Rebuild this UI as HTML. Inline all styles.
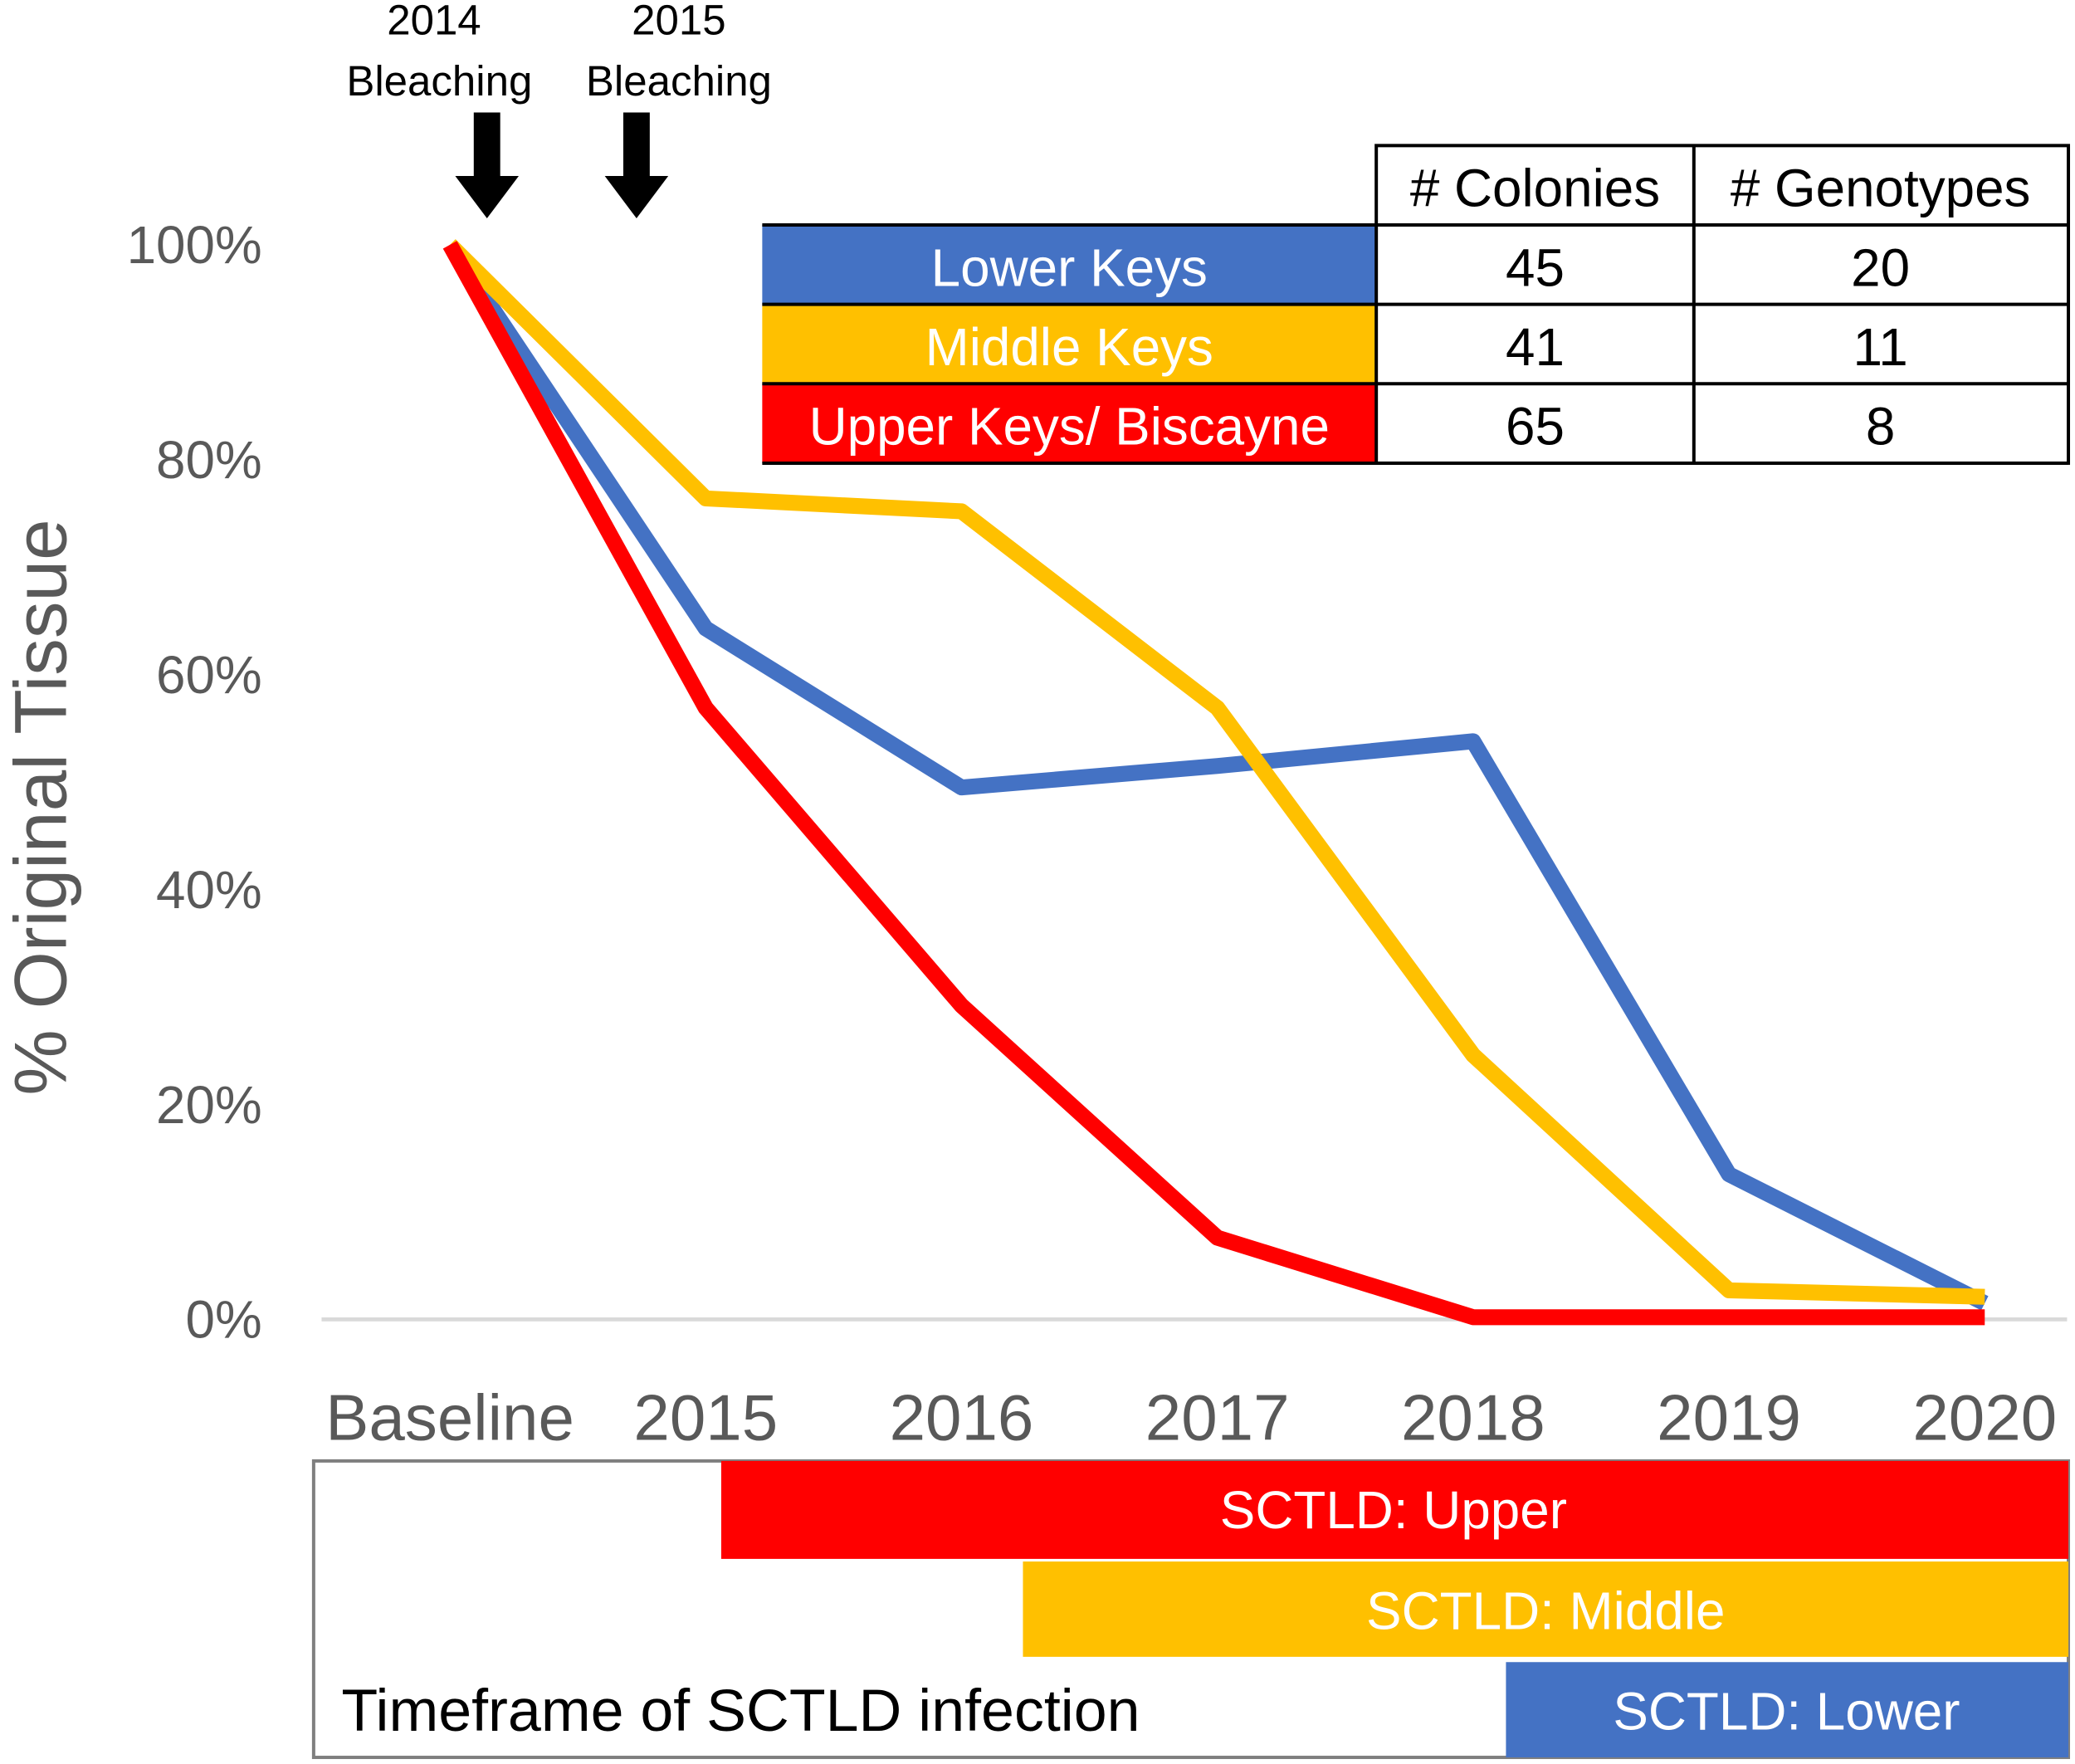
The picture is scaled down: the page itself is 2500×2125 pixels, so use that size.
<!DOCTYPE html>
<html><head><meta charset="utf-8"><style>
html,body{margin:0;padding:0;background:#fff;}
svg{display:block;font-family:"Liberation Sans","DejaVu Sans",sans-serif;}
</style></head><body>
<svg id="chart" width="2500" height="2125" viewBox="0 0 1568 1333" preserveAspectRatio="none" xmlns="http://www.w3.org/2000/svg">
<g id="yticks"></g>
<g id="xticks"></g>
<line x1="243" y1="997" x2="1562" y2="997" stroke="#d9d9d9" stroke-width="3"/>
<text transform="translate(50,610) rotate(-90)" text-anchor="middle" font-size="56" fill="#595959">% Original Tissue</text>
<g id="lines"></g>
<g font-size="32" fill="#000" text-anchor="middle">
<text x="328" y="26">2014</text>
<text x="332" y="72">Bleaching</text>
<text x="513" y="26">2015</text>
<text x="513" y="72">Bleaching</text>
<polygon points="358,85 378,85 378,133 392,133 368,165 344,133 358,133"/>
<polygon points="471,85 491,85 491,133 505,133 481,165 457,133 471,133"/>
</g>
<g font-size="40" text-anchor="middle">
<rect x="576" y="170" width="464" height="60" fill="#4472c4"/>
<rect x="576" y="230" width="464" height="60" fill="#ffc000"/>
<rect x="576" y="290" width="464" height="60" fill="#ff0000"/>
<g stroke="#000" stroke-width="2.5" fill="none">
<rect x="1040" y="110" width="523" height="240"/>
<line x1="576" y1="170" x2="1563" y2="170"/>
<line x1="576" y1="230" x2="1563" y2="230"/>
<line x1="576" y1="290" x2="1563" y2="290"/>
<line x1="576" y1="350" x2="1563" y2="350"/>
<line x1="1280" y1="110" x2="1280" y2="350"/>
</g>
<text x="1160" y="156">#&#160;Colonies</text>
<text x="1421" y="156"># Genotypes</text>
<text x="808" y="216" fill="#fff">Lower Keys</text>
<text x="808" y="276" fill="#fff">Middle Keys</text>
<text x="808" y="336" fill="#fff">Upper Keys/ Biscayne</text>
<text x="1160" y="216">45</text><text x="1421" y="216">20</text>
<text x="1160" y="276">41</text><text x="1421" y="276">11</text>
<text x="1160" y="336">65</text><text x="1421" y="336">8</text>
</g>
<g font-size="40">
<rect x="237" y="1104" width="1326" height="224" fill="none" stroke="#7f7f7f" stroke-width="2.5"/>
<rect x="545" y="1104" width="1018" height="74" fill="#ff0000"/>
<rect x="773" y="1180" width="790" height="72" fill="#ffc000"/>
<rect x="1138" y="1256" width="425" height="72" fill="#4472c4"/>
<text x="1053" y="1155" fill="#fff" text-anchor="middle">SCTLD: Upper</text>
<text x="1168" y="1231" fill="#fff" text-anchor="middle">SCTLD: Middle</text>
<text x="1350" y="1307" fill="#fff" text-anchor="middle">SCTLD: Lower</text>
<text x="258" y="1308" fill="#000" font-size="45">Timeframe of SCTLD infection</text>
</g>
</svg>
<script>
const categories = ["Baseline","2015","2016","2017","2018","2019","2020"];
const lowerKeys = [100, 64.3, 49.5, 51.5, 53.8, 13.5, 1.5];
const middleKeys = [100, 76.4, 75.2, 56.9, 24.6, 2.7, 2.1];
const upperKeys = [100, 56.9, 29.2, 7.6, 0.2, 0.2, 0.2];
const yTickLabels = ["0%","20%","40%","60%","80%","100%"];
const yTickValues = [0,20,40,60,80,100];
const NS = "http://www.w3.org/2000/svg";
function xScale(i){ return 340 + i * 193.3; }
function yScale(v){ return 997 - v * 8.12; }
const yt = document.getElementById('yticks');
yTickValues.forEach((v,i)=>{
  const t = document.createElementNS(NS,'text');
  
  
  t.setAttribute('x',198); t.setAttribute('y',yScale(v)+14);
  t.setAttribute('text-anchor','end'); t.setAttribute('font-size','40'); t.setAttribute('fill','#595959');
  t.textContent = yTickLabels[i]; yt.appendChild(t);
});
const xt = document.getElementById('xticks');
categories.forEach((c,i)=>{
  const t = document.createElementNS(NS,'text');
  
  
  t.setAttribute('x',xScale(i)); t.setAttribute('y',1088);
  t.setAttribute('text-anchor','middle'); t.setAttribute('font-size','49'); t.setAttribute('fill','#595959');
  t.textContent = c; xt.appendChild(t);
});
const lg = document.getElementById('lines');
[[lowerKeys,'#4472c4','lower-keys-line'],[middleKeys,'#ffc000','middle-keys-line'],[upperKeys,'#ff0000','upper-keys-line']].forEach(([d,col,name])=>{
  const p = document.createElementNS(NS,'polyline');
  
  
  p.setAttribute('points', d.map((v,i)=>xScale(i)+','+yScale(v)).join(' '));
  p.setAttribute('fill','none'); p.setAttribute('stroke',col); p.setAttribute('stroke-width','12');
  p.setAttribute('stroke-linejoin','round');
  lg.appendChild(p);
});
</script>
</body></html>
